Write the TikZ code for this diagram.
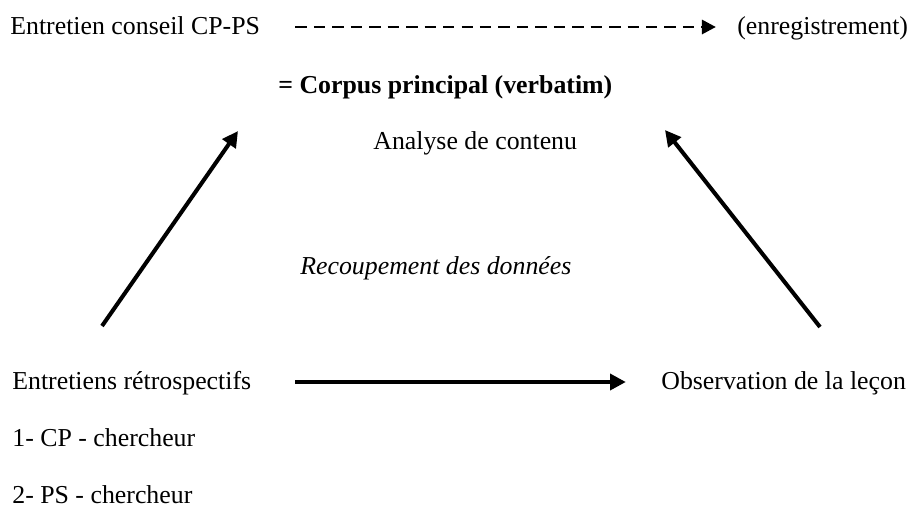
\documentclass[tikz,border=0pt]{standalone}
\usepackage{fontspec}
\setmainfont{Liberation Serif}
\usetikzlibrary{arrows.meta,positioning}

\begin{document}
\begin{tikzpicture}[
    x=0.02cm, y=-0.02cm,
    every node/.style={font=\fontsize{14.7}{17}\selectfont, inner sep=0pt, text height=11pt, text depth=3pt},
    txt/.style={anchor=west},
    arrow/.style={-{Triangle[length=9pt, width=9pt]}, line width=2.3pt, black},
    dasharrow/.style={-{Triangle[length=8pt, width=8pt]}, line width=1.7pt, dash pattern=on 6.5pt off 4pt, black}
]
\useasboundingbox (0,0) rectangle (909,514);

% Top line - recording of the session
\node[txt] (conseil) at (10,27) {Entretien conseil CP-PS};
\node[txt] (enreg) at (737,27) {(enregistrement)};

% Main corpus
\node[txt] (corpus) at (278,86) {\bfseries = Corpus principal (verbatim)};
\node[txt] (analyse) at (373,142) {Analyse de contenu};

\node[txt] (recoup) at (300,267) {\itshape Recoupement des donn\'ees};

% Bottom line - other data sources
\node[txt] (retro) at (12,382) {Entretiens r\'etrospectifs};
\node[txt] (observ) at (661,382) {Observation de la le\c{c}on};
\node[txt, below=32.5pt of retro.west, anchor=west] (cp) {1- CP - chercheur};
\node[txt, below=32.5pt of cp.west, anchor=west] (ps) {2- PS - chercheur};

% Ends of the slanted arrows
\coordinate (retroUp) at (102,326);
\coordinate (corpusLeft) at (238,131);
\coordinate (observUp) at (820,327);
\coordinate (corpusRight) at (665,130);

% Arrows
\draw[dasharrow] ([xshift=20pt]conseil.east) -- ([xshift=-12pt]enreg.west);
\draw[arrow] ([xshift=25pt]retro.east) -- ([xshift=-20pt]observ.west);
\draw[arrow] (retroUp) -- (corpusLeft);
\draw[arrow] (observUp) -- (corpusRight);

\end{tikzpicture}
\end{document}
